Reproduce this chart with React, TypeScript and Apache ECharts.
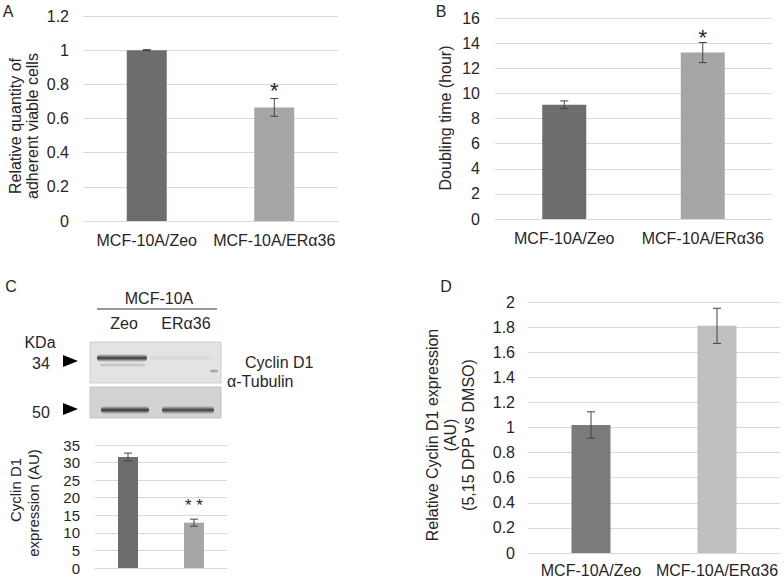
import React, { useEffect, useRef } from "react";
import * as echarts from "echarts";

const FONT = '"Liberation Sans", Arial, sans-serif';
const TEXT = "#262626";
const GRID = "#d9d9d9";

const categories = ["MCF-10A/Zeo", "MCF-10A/ERα36"];

// Panel A
const viabilityMeans = [1.0, 0.665];
const viabilityErr = [0.003, 0.052];
const viabilitySig = ["", "*"];
const viabilityAxis = [0, 1.2, 0.2];

// Panel B
const doublingMeans = [9.1, 13.25];
const doublingErr = [0.3, 0.8];
const doublingSig = ["", "*"];
const doublingAxis = [0, 16, 2];

// Panel C
const cyclinMeans = [31.6, 12.9];
const cyclinErr = [1.1, 1.0];
const cyclinSig = ["", "* *"];
const cyclinAxis = [0, 35, 5];

// Panel D
const dppMeans = [1.02, 1.81];
const dppErr = [0.105, 0.14];
const dppSig = ["", ""];
const dppAxis = [0, 2, 0.2];

const darkColors = ["#6f6c6c", "#a6a6a6"];
const lightColors = ["#7b7b7b", "#bfbfbf"];

type Panel = {
  means: number[];
  err: number[];
  sig: string[];
  axis: number[];
  colors: string[];
  grid: { left: number; top: number; width: number; height: number };
  barWidth: number;
  showX: boolean;
  xMargin: number;
  yMargin: number;
  yFont: number;
  sigFont: number;
  sigOffset: number;
};

const panels: Panel[] = [
  {
    means: viabilityMeans, err: viabilityErr, sig: viabilitySig, axis: viabilityAxis,
    colors: darkColors, grid: { left: 83, top: 16, width: 255, height: 205 },
    barWidth: 40, showX: true, xMargin: 11, yMargin: 14, yFont: 16, sigFont: 22, sigOffset: 8,
  },
  {
    means: doublingMeans, err: doublingErr, sig: doublingSig, axis: doublingAxis,
    colors: darkColors, grid: { left: 495, top: 18, width: 277, height: 201 },
    barWidth: 44, showX: true, xMargin: 11, yMargin: 15, yFont: 16, sigFont: 22, sigOffset: 5,
  },
  {
    means: cyclinMeans, err: cyclinErr, sig: cyclinSig, axis: cyclinAxis,
    colors: darkColors, grid: { left: 95, top: 445, width: 132, height: 123 },
    barWidth: 20, showX: false, xMargin: 8, yMargin: 15, yFont: 15, sigFont: 17, sigOffset: 14,
  },
  {
    means: dppMeans, err: dppErr, sig: dppSig, axis: dppAxis,
    colors: lightColors, grid: { left: 528, top: 302, width: 252, height: 251 },
    barWidth: 39, showX: true, xMargin: 9, yMargin: 13, yFont: 16, sigFont: 20, sigOffset: 8,
  },
];

function txt(text: string, x: number, y: number, opts: any = {}) {
  return {
    type: "text",
    x,
    y,
    rotation: opts.rotation || 0,
    style: {
      text,
      fill: TEXT,
      fontSize: opts.fontSize || 16,
      fontFamily: FONT,
      align: opts.align || "center",
      verticalAlign: "middle",
      lineHeight: opts.lineHeight || 18,
    },
  };
}

function band(x: number, y: number, w: number, h: number, alpha: number) {
  return {
    type: "rect",
    shape: { x, y: y - h / 2, width: w, height: h, r: h / 2 },
    style: {
      fill: new echarts.graphic.LinearGradient(0, 0, 0, 1, [
        { offset: 0, color: `rgba(35,35,35,0)` },
        { offset: 0.5, color: `rgba(35,35,35,${alpha})` },
        { offset: 1, color: `rgba(35,35,35,0)` },
      ]),
    },
  };
}

function triangle(x: number, y: number) {
  return {
    type: "polygon",
    shape: { points: [[x, y - 6], [x + 15, y], [x, y + 6]] },
    style: { fill: "#000" },
  };
}

export default function App() {
  const ref = useRef<HTMLDivElement>(null);
  useEffect(() => {
    if (!ref.current) return;
    const chart = echarts.init(ref.current, null, { renderer: "svg" });

    const grid = panels.map((p) => ({ ...p.grid, containLabel: false }));
    const xAxis = panels.map((p, i) => ({
      type: "category",
      gridIndex: i,
      data: categories,
      axisTick: { show: false },
      axisLine: { lineStyle: { color: GRID } },
      axisLabel: {
        show: p.showX,
        interval: 0,
        hideOverlap: false,
        fontSize: 16,
        color: TEXT,
        fontFamily: FONT,
        margin: p.xMargin,
      },
    }));
    const yAxis = panels.map((p, i) => ({
      type: "value",
      gridIndex: i,
      min: p.axis[0],
      max: p.axis[1],
      interval: p.axis[2],
      axisLine: { show: false },
      axisTick: { show: false },
      splitLine: { lineStyle: { color: GRID } },
      axisLabel: { fontSize: p.yFont, color: TEXT, fontFamily: FONT, margin: p.yMargin },
    }));

    const series: any[] = [];
    panels.forEach((p, i) => {
      series.push({
        type: "bar",
        xAxisIndex: i,
        yAxisIndex: i,
        barWidth: p.barWidth,
        data: p.means.map((v, k) => ({ value: v, itemStyle: { color: p.colors[k] } })),
      });
      series.push({
        type: "custom",
        xAxisIndex: i,
        yAxisIndex: i,
        z: 5,
        encode: { x: 0, y: [1, 2] },
        data: p.means.map((v, k) => [k, v - p.err[k], v + p.err[k]]),
        renderItem: (params: any, api: any) => {
          const x = api.value(0);
          const top = api.coord([x, api.value(2)]);
          const bot = api.coord([x, api.value(1)]);
          const w = 4;
          const stroke = { stroke: "#444", lineWidth: 1 };
          const children: any[] = [
            { type: "line", shape: { x1: top[0], y1: top[1], x2: bot[0], y2: bot[1] }, style: stroke },
            { type: "line", shape: { x1: top[0] - w, y1: top[1], x2: top[0] + w, y2: top[1] }, style: stroke },
            { type: "line", shape: { x1: bot[0] - w, y1: bot[1], x2: bot[0] + w, y2: bot[1] }, style: stroke },
          ];
          const s = p.sig[params.dataIndex];
          if (s) {
            children.push({
              type: "text",
              x: top[0],
              y: top[1] - p.sigOffset,
              style: {
                text: s,
                fill: TEXT,
                fontSize: p.sigFont,
                fontFamily: FONT,
                align: "center",
                verticalAlign: "middle",
              },
            });
          }
          return { type: "group", children };
        },
      });
    });

    const graphic: any[] = [
      txt("A", 8, 11),
      txt("B", 441, 11),
      txt("C", 11, 286),
      txt("D", 446, 286),
      txt("Relative quantity of\nadherent viable cells", 23.5, 126, { rotation: Math.PI / 2, lineHeight: 17 }),
      txt("Doubling time (hour)", 445, 118, { rotation: Math.PI / 2 }),
      txt("Relative Cyclin D1 expression\n(AU)\n(5,15 DPP vs DMSO)", 450.5, 435, { rotation: Math.PI / 2, lineHeight: 18 }),
      txt("Cyclin D1", 15, 490, { rotation: Math.PI / 2, fontSize: 15 }),
      txt("expression (AU)", 33, 503, { rotation: Math.PI / 2, fontSize: 15 }),
      // Western blot header
      txt("MCF-10A", 159, 298),
      { type: "line", shape: { x1: 97, y1: 309, x2: 217, y2: 309 }, style: { stroke: "#333", lineWidth: 1 } },
      txt("Zeo", 124, 323),
      txt("ERα36", 186, 323),
      txt("KDa", 40, 342),
      txt("34", 41, 363),
      txt("50", 41, 412),
      triangle(63, 361),
      triangle(63, 409),
      txt("Cyclin D1", 245, 362, { align: "left" }),
      txt("α-Tubulin", 227, 381, { align: "left" }),
      // blot 1
      { type: "rect", shape: { x: 90, y: 342, width: 131, height: 41 }, style: { fill: "#e3e3e3", stroke: "#cfcfcf", lineWidth: 1 } },
      band(97, 358, 50, 8, 0.9),
      band(100, 365, 45, 4, 0.2),
      band(150, 358, 60, 6, 0.06),
      band(210, 371, 8, 4, 0.4),
      // blot 2
      { type: "rect", shape: { x: 90, y: 387, width: 131, height: 31 }, style: { fill: "#d2d2d2", stroke: "#c4c4c4", lineWidth: 1 } },
      band(101, 410, 48, 8, 0.9),
      band(162, 410, 52, 8, 0.85),
    ];

    chart.setOption({
      animation: false,
      backgroundColor: "#fff",
      textStyle: { fontFamily: FONT },
      grid,
      xAxis,
      yAxis,
      series,
      graphic,
    });
    return () => chart.dispose();
  }, []);
  return (
    <div
      ref={ref}
      style={{ position: "absolute", left: 0, top: 0, width: 784, height: 580 }}
    />
  );
}
